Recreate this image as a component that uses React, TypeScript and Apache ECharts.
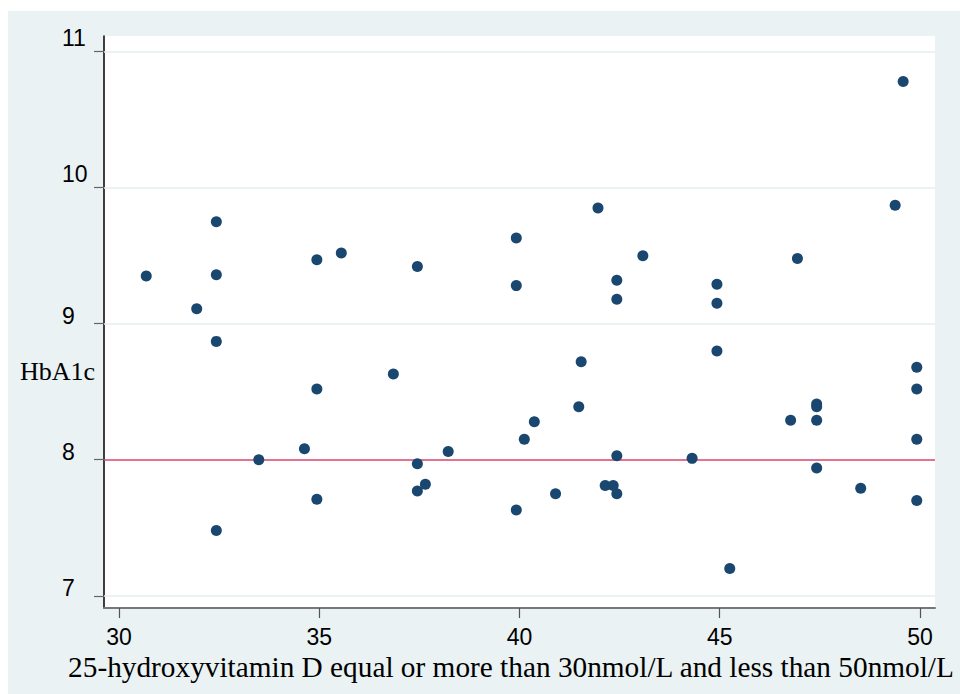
import React, { useEffect, useRef } from "react";
import * as echarts from "echarts";

const xValues = [30.68, 31.94, 32.43, 32.43, 32.43, 32.43, 33.49, 34.63, 34.94, 34.94, 34.94, 35.55, 36.85, 37.45, 37.45, 37.45, 37.65, 38.22, 39.92, 39.92, 39.92, 40.12, 40.37, 40.9, 41.48, 41.54, 41.96, 42.14, 42.34, 42.43, 42.43, 42.43, 42.43, 43.08, 44.31, 44.93, 44.93, 44.93, 45.25, 46.77, 46.94, 47.42, 47.42, 47.42, 47.42, 48.52, 49.38, 49.58, 49.92, 49.92, 49.92, 49.92];
const yValues = [9.35, 9.11, 9.75, 9.36, 8.87, 7.48, 8.0, 8.08, 9.47, 8.52, 7.71, 9.52, 8.63, 9.42, 7.97, 7.77, 7.82, 8.06, 9.63, 9.28, 7.63, 8.15, 8.28, 7.75, 8.39, 8.72, 9.85, 7.81, 7.81, 9.32, 9.18, 8.03, 7.75, 9.5, 8.01, 9.29, 9.15, 8.8, 7.2, 8.29, 9.48, 8.41, 8.39, 8.29, 7.94, 7.79, 9.87, 10.78, 8.68, 8.52, 8.15, 7.7];
const xTicks = [30, 35, 40, 45, 50];
const yTicks = [7, 8, 9, 10, 11];
const refValue = 8;
const xTitle = "25-hydroxyvitamin D equal or more than 30nmol/L and less than 50nmol/L";
const yTitle = "HbA1c";

export default function App() {
  const ref = useRef<HTMLDivElement>(null);
  useEffect(() => {
    if (!ref.current) return;
    const chart = echarts.init(ref.current, null, { renderer: "svg" });
    const points = xValues.map((x, i) => [x, yValues[i]]);
    const gridLines = yTicks
      .filter((v) => v !== refValue)
      .map((v) => ({ yAxis: v, lineStyle: { color: "#e6eef0", width: 1.5, type: "solid" } }));
    chart.setOption({
      animation: false,
      backgroundColor: "#eaf2f3",
      title: {
        text: yTitle,
        left: 12,
        top: 347,
        padding: 0,
        textStyle: {
          fontFamily: "Liberation Serif",
          fontSize: 26,
          fontWeight: "normal",
          color: "#000",
        },
      },
      grid: {
        left: 96,
        top: 25,
        right: 25,
        bottom: 86,
        show: true,
        backgroundColor: "#ffffff",
        borderWidth: 0,
        containLabel: false,
        outerBoundsMode: "none",
      },
      xAxis: {
        type: "value",
        min: 29.625,
        max: 50.375,
        name: xTitle,
        nameLocation: "middle",
        nameGap: 44,
        nameTextStyle: {
          fontFamily: "Liberation Serif",
          fontSize: 29.3,
          color: "#000",
          padding: [0, 17, 0, 0],
        },
        axisLine: { show: true, onZero: false, lineStyle: { color: "#777777", width: 2 } },
        axisTick: { show: true, customValues: xTicks, length: 10, lineStyle: { color: "#555555", width: 1.2 } },
        axisLabel: {
          customValues: xTicks,
          margin: 17,
          fontFamily: "Liberation Sans",
          fontSize: 23,
          color: "#000",
        },
        splitLine: { show: false },
      },
      yAxis: {
        type: "value",
        min: 6.91,
        max: 11.115,
        axisLine: { show: true, onZero: false, lineStyle: { color: "#000000", width: 1.5 } },
        axisTick: { show: true, customValues: yTicks, length: 10, lineStyle: { color: "#666666", width: 1.2 } },
        axisLabel: {
          customValues: yTicks,
          margin: 42,
          align: "left",
          fontFamily: "Liberation Sans",
          fontSize: 23,
          color: "#000",
          formatter: (v: number) => (v >= 10 ? "{hi|" + v + "}" : "{lo|" + v + "}"),
          rich: {
            hi: { fontFamily: "Liberation Sans", fontSize: 23, color: "#000", padding: [0, 0, 28, 0] },
            lo: { fontFamily: "Liberation Sans", fontSize: 23, color: "#000", padding: [0, 0, 15, 0] },
          },
        },
        splitLine: { show: false },
      },
      series: [
        {
          type: "line",
          data: [],
          z: 1,
          markLine: {
            silent: true,
            symbol: "none",
            z: 1,
            label: { show: false },
            data: [
              ...gridLines,
              { yAxis: refValue, lineStyle: { color: "#d9466b", width: 1.6, type: "solid" } },
            ],
          },
        },
        {
          type: "scatter",
          data: points,
          z: 3,
          symbol: "circle",
          symbolSize: 11,
          itemStyle: { color: "#1a476f", opacity: 1 },
        },
      ],
    });
    return () => chart.dispose();
  }, []);
  return (
    <div
      ref={ref}
      style={{ position: "absolute", left: 8, top: 11, width: 952, height: 683 }}
    />
  );
}
